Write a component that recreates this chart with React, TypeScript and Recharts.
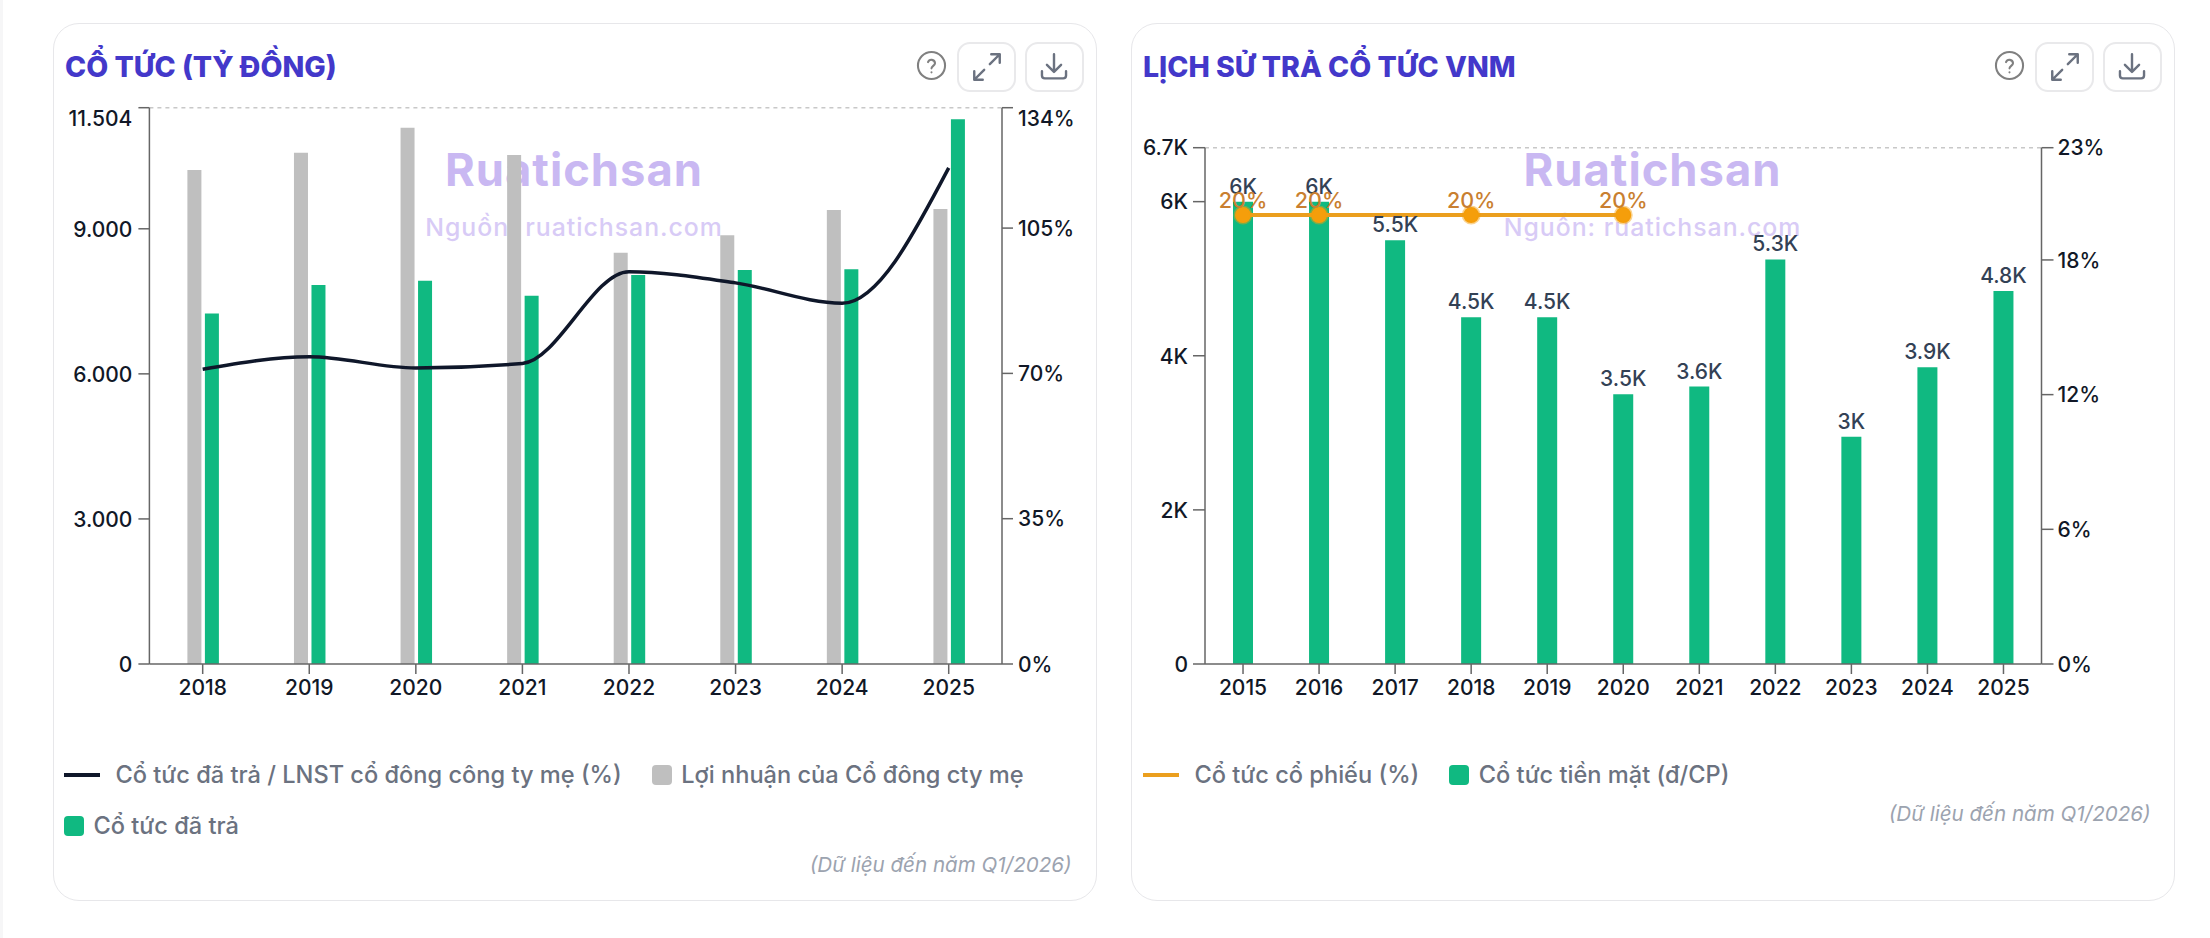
import React from 'react';
import { Bar, ComposedChart, LabelList, Legend, Line, ReferenceLine, XAxis, YAxis } from 'recharts';

const FONT = 'Inter, "Noto Sans", sans-serif';
const AXIS = '#666666';

// left card
const PROFIT_YEARS = ['2018', '2019', '2020', '2021', '2022', '2023', '2024', '2025'];
const PROFIT = [10215, 10573, 11090, 10526, 8504, 8864, 9388, 9408];
const PAID = [7250, 7836, 7925, 7614, 8043, 8146, 8161, 11264];
const PAYOUT = [71, 74, 71.3, 72.4, 94.5, 91.8, 86.9, 119.5];
const PROFIT_TICKS = [0, 3000, 6000, 9000, 11504];
const PAYOUT_TICKS = [0, 35, 70, 105, 134];

// right card
const CASH_YEARS = ['2015', '2016', '2017', '2018', '2019', '2020', '2021', '2022', '2023', '2024', '2025'];
const CASH = [6000, 6000, 5500, 4500, 4500, 3500, 3600, 5250, 2950, 3850, 4840];
const STOCK = [20, 20, null, 20, null, 20, null, null, null, null, null];
const CASH_TICKS = [0, 2000, 4000, 6000, 6700];
const STOCK_TICKS = [0, 6, 12, 18, 23];

const leftData = PROFIT_YEARS.map((year, i) => ({ year, profit: PROFIT[i], paid: PAID[i], payout: PAYOUT[i] }));
const rightData = CASH_YEARS.map((year, i) => ({ year, cash: CASH[i], stock: STOCK[i] }));

const dotted = (n: number) => n.toLocaleString('de-DE');
const pct = (n: number) => `${n}%`;
const kilo = (n: number) => (n === 0 ? '0' : `${(n / 1000).toFixed(1).replace(/\.0$/, '')}K`);

const makeTick = (format: (n: number) => string, topValue?: number) => (props: any) => {
    const { x, y, textAnchor, payload } = props;
    const shift = payload.value === topValue ? 11 : 0;
    return (
        <text x={x} y={y + shift} dy="0.37em" textAnchor={textAnchor} fontSize={21} fontWeight={500} fontFamily={FONT} fill="#111827">
            {format(payload.value)}
        </text>
    );
};

const LegendBox = ({ payload, order }: any) => (
    <div style={{ display: 'flex', flexWrap: 'wrap', rowGap: 20, columnGap: 30, fontFamily: FONT, fontSize: 23.6, fontWeight: 500, color: '#6b7280', lineHeight: '31px' }}>
        {order.map((name: string) => {
            const item = (payload || []).find((p: any) => p.value === name);
            if (!item) return null;
            return (
                <div key={name} style={{ display: 'flex', alignItems: 'center', whiteSpace: 'nowrap' }}>
                    {item.type === 'line' ? (
                        <span style={{ width: 36, height: 4, background: item.color, marginRight: 15.5 }} />
                    ) : (
                        <span style={{ width: 20, height: 20, borderRadius: 4, background: item.color, marginRight: 9.5 }} />
                    )}
                    {name}
                </div>
            );
        })}
    </div>
);

const HelpIcon = ({ x }: { x: number }) => (
    <svg style={{ position: 'absolute', left: x - 15.5, top: 49.5 }} width={31} height={31} viewBox="0 0 24 24" fill="none" stroke="#808080" strokeWidth={1.6} strokeLinecap="round">
        <circle cx={12} cy={12} r={10.5} />
        <path d="M9.3 9.4a2.8 2.8 0 0 1 5.4 .8c0 1.8-2.7 2.3-2.7 4" />
        <path d="M12 17.2v.1" />
    </svg>
);

const IconButton = ({ x, d }: { x: number; d: string }) => (
    <div style={{ position: 'absolute', left: x, top: 42, width: 59, height: 50, boxSizing: 'border-box', border: '2px solid #e9e9eb', borderRadius: 13, display: 'flex', alignItems: 'center', justifyContent: 'center' }}>
        <svg width={34} height={34} viewBox="0 0 24 24" fill="none" stroke="#6b7280" strokeWidth={1.7} strokeLinecap="round" strokeLinejoin="round">
            <path d={d} />
        </svg>
    </div>
);

const EXPAND = 'M14 10l7-7M15 3h6v6M10 14l-7 7M3 15v6h6';
const DOWNLOAD = 'M12 3v12M7 10.5l5 5 5-5M3.5 15v3a2 2 0 0 0 2 2h13a2 2 0 0 0 2-2v-3';

const Watermark = ({ x }: { x: number }) => (
    <>
        <div style={{ position: 'absolute', left: x - 300, width: 600, top: 140, textAlign: 'center', fontFamily: FONT, fontSize: 45.3, fontWeight: 700, lineHeight: '60px', letterSpacing: 1, color: '#c9b8f2' }}>Ruatichsan</div>
        <div style={{ position: 'absolute', left: x - 300, width: 600, top: 212, textAlign: 'center', fontFamily: FONT, fontSize: 24.8, fontWeight: 500, lineHeight: '30px', letterSpacing: 1, color: '#d8cbf6' }}>Nguồn: ruatichsan.com</div>
    </>
);

const Card = ({ x, title }: { x: number; title: string }) => (
    <>
        <div style={{ position: 'absolute', left: x, top: 23, width: 1044, height: 878, boxSizing: 'border-box', border: '1.5px solid #e7e7ea', borderRadius: 26 }} />
        <div style={{ position: 'absolute', left: x + 12, top: 48, fontFamily: FONT, fontSize: 28.5, fontWeight: 800, lineHeight: '38px', color: '#4338ca', whiteSpace: 'nowrap' }}>{title}</div>
        <HelpIcon x={x + 878} />
        <IconButton x={x + 904} d={EXPAND} />
        <IconButton x={x + 971.5} d={DOWNLOAD} />
    </>
);

const SourceNote = ({ right, top }: { right: number; top: number }) => (
    <div style={{ position: 'absolute', right: 2210 - right, top, fontFamily: FONT, fontSize: 20.6, fontStyle: 'italic', lineHeight: '26px', color: '#9ca3af', whiteSpace: 'nowrap' }}>
        (Dữ liệu đến năm Q1/2026)
    </div>
);

const LEFT_LEGEND = ['Cổ tức đã trả / LNST cổ đông công ty mẹ (%)', 'Lợi nhuận của Cổ đông cty mẹ', 'Cổ tức đã trả'];
const RIGHT_LEGEND = ['Cổ tức cổ phiếu (%)', 'Cổ tức tiền mặt (đ/CP)'];

export default function App() {
    return (
        <div style={{ position: 'absolute', left: 0, top: 0, width: 2210, height: 938, background: '#ffffff', overflow: 'hidden' }}>
            <div style={{ position: 'absolute', left: 0, top: 0, width: 3, height: 938, background: '#f6f6f7' }} />
            <Card x={53} title="CỔ TỨC (TỶ ĐỒNG)" />
            <Card x={1131} title="LỊCH SỬ TRẢ CỔ TỨC VNM" />
            <Watermark x={574} />
            <Watermark x={1652.5} />
            <SourceNote right={1071.5} top={852} />
            <SourceNote right={2150.5} top={801} />

            <div style={{ position: 'absolute', left: 53, top: 23 }}>
                <ComposedChart width={1044} height={878} data={leftData} barSize={14} barGap={3.5} margin={{ top: 84.7, right: 0, bottom: 197, left: 0 }}>
                    <XAxis dataKey="year" height={40} stroke={AXIS} strokeWidth={1.5} tickSize={10} tickMargin={13} interval={0} tick={makeTick(String)} />
                    <YAxis yAxisId="left" width={96.4} domain={[0, 11504]} ticks={PROFIT_TICKS} interval={0} stroke={AXIS} strokeWidth={1.5} tickSize={11} tickMargin={6} tick={makeTick(dotted, 11504)} />
                    <YAxis yAxisId="right" orientation="right" width={95} domain={[0, 134]} ticks={PAYOUT_TICKS} interval={0} stroke={AXIS} strokeWidth={1.5} tickSize={11} tickMargin={5} tick={makeTick(pct, 134)} />
                    <ReferenceLine yAxisId="left" y={11504} stroke="#c8c8c8" strokeWidth={1.5} strokeDasharray="4 4" />
                    <Bar yAxisId="left" dataKey="profit" name={LEFT_LEGEND[1]} fill="#bfbfbf" isAnimationActive={false} />
                    <Bar yAxisId="left" dataKey="paid" name={LEFT_LEGEND[2]} fill="#10b981" isAnimationActive={false} />
                    <Line yAxisId="right" type="monotone" dataKey="payout" name={LEFT_LEGEND[0]} stroke="#0f172a" strokeWidth={3.5} dot={false} isAnimationActive={false} />
                    <Legend layout="horizontal" verticalAlign="middle" wrapperStyle={{ left: 11, top: 736, width: 1020 }} content={(props: any) => <LegendBox {...props} order={LEFT_LEGEND} />} />
                </ComposedChart>
            </div>

            <div style={{ position: 'absolute', left: 1131, top: 23 }}>
                <ComposedChart width={1044} height={878} data={rightData} barSize={20} margin={{ top: 124.7, right: 0, bottom: 197, left: 0 }}>
                    <XAxis dataKey="year" height={40} stroke={AXIS} strokeWidth={1.5} tickSize={10} tickMargin={13} interval={0} tick={makeTick(String)} />
                    <YAxis yAxisId="left" width={74} domain={[0, 6700]} ticks={CASH_TICKS} interval={0} stroke={AXIS} strokeWidth={1.5} tickSize={12} tickMargin={5} tick={makeTick(kilo)} />
                    <YAxis yAxisId="right" orientation="right" width={133.5} domain={[0, 23]} ticks={STOCK_TICKS} interval={0} stroke={AXIS} strokeWidth={1.5} tickSize={12} tickMargin={4} tick={makeTick(pct)} />
                    <ReferenceLine yAxisId="left" y={6700} stroke="#c8c8c8" strokeWidth={1.5} strokeDasharray="4 4" />
                    <Bar yAxisId="left" dataKey="cash" name={RIGHT_LEGEND[1]} fill="#10b981" isAnimationActive={false}>
                        <LabelList dataKey="cash" position="top" offset={8} formatter={(v: any) => kilo(Number(v))} style={{ fontFamily: FONT, fontSize: 21, fontWeight: 500, fill: '#334155' }} />
                    </Bar>
                    <Line yAxisId="right" type="linear" dataKey="stock" name={RIGHT_LEGEND[0]} stroke="#eb9f1e" strokeWidth={4} connectNulls dot={{ r: 8, fill: '#f59e0b', stroke: '#f59e0b', strokeOpacity: 0.45, strokeWidth: 3 }} isAnimationActive={false}>
                        <LabelList dataKey="stock" position="top" offset={7} formatter={(v: any) => (v == null ? '' : `${v}%`)} style={{ fontFamily: FONT, fontSize: 21.5, fontWeight: 500, fill: '#c97f30' }} />
                    </Line>
                    <Legend layout="horizontal" verticalAlign="middle" wrapperStyle={{ left: 12, top: 736, width: 1020 }} content={(props: any) => <LegendBox {...props} order={RIGHT_LEGEND} />} />
                </ComposedChart>
            </div>
        </div>
    );
}
